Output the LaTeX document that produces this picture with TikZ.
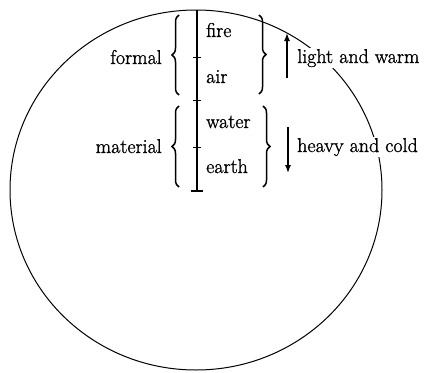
\documentclass[tikz,border=0pt]{standalone}
\usepackage{fontspec}
\newfontfamily\labfont{Latin Modern Roman}[FakeBold=1.2]
\usetikzlibrary{decorations.pathreplacing,arrows.meta}
\begin{document}
\begin{tikzpicture}[x=1pt,y=-1pt,
  lbl/.style={inner sep=0pt,font=\labfont\fontsize{20}{24}\selectfont},
  side/.style={inner sep=1pt,fill=white,font=\labfont\fontsize{20}{24}\selectfont},
  bracestyle/.style={line width=1.5pt,decorate,decoration={brace,amplitude=7pt,aspect=0.5}},
  axis/.style={line width=1.5pt},
  tick/.style={line width=1pt},
  arr/.style={line width=1.4pt,-{Latex[length=8pt,width=6pt]}}]
\useasboundingbox (0,0) rectangle (436,372);
% sphere
\draw[line width=1pt] (196,190) ellipse [x radius=186, y radius=180];
% axis
\coordinate (top) at (197,10);
\coordinate (t1) at (197,57);
\coordinate (t2) at (197,100);
\coordinate (t3) at (197,147);
\coordinate (bot) at (197,191);
\draw[axis] (top) -- (bot);
\draw[tick] ([xshift=-4pt]t1) -- ([xshift=4pt]t1);
\draw[tick] ([xshift=-4pt]t2) -- ([xshift=4pt]t2);
\draw[tick] ([xshift=-4pt]t3) -- ([xshift=4pt]t3);
\draw[tick,line width=1.5pt] ([xshift=-6pt]bot) -- ([xshift=6pt]bot);
% elements
\node[lbl,anchor=base west] (fire) at (206,37) {fire};
\node[lbl,anchor=base west] (air) at (206,83) {air};
\node[lbl,anchor=base west] (water) at (206,128) {water};
\node[lbl,anchor=base west] (earth) at (206,173) {earth};
% left braces
\coordinate (lf1) at (179,95); \coordinate (lf2) at (179,15);
\coordinate (lm1) at (179,187); \coordinate (lm2) at (179,106);
\draw[bracestyle] (lf1) -- (lf2);
\draw[bracestyle] (lm1) -- (lm2);
% right braces
\coordinate (rf1) at (259,15); \coordinate (rf2) at (259,94);
\coordinate (rm1) at (263,106); \coordinate (rm2) at (263,187);
\draw[bracestyle] (rf1) -- (rf2);
\draw[bracestyle] (rm1) -- (rm2);
% left labels
\node[lbl,anchor=base east] (formal) at (162,64) {formal};
\node[lbl,anchor=base east] (material) at (162,153) {material};
% right labels
\node[side,anchor=base west] (light) at (296,63) {light and warm};
\node[side,anchor=base west] (heavy) at (296,152) {heavy and cold};
% arrows
\coordinate (ua1) at (287,78); \coordinate (ua2) at (287,33);
\coordinate (da1) at (288,127); \coordinate (da2) at (288,173);
\draw[arr] (ua1) -- (ua2);
\draw[arr] (da1) -- (da2);
\end{tikzpicture}
\end{document}
